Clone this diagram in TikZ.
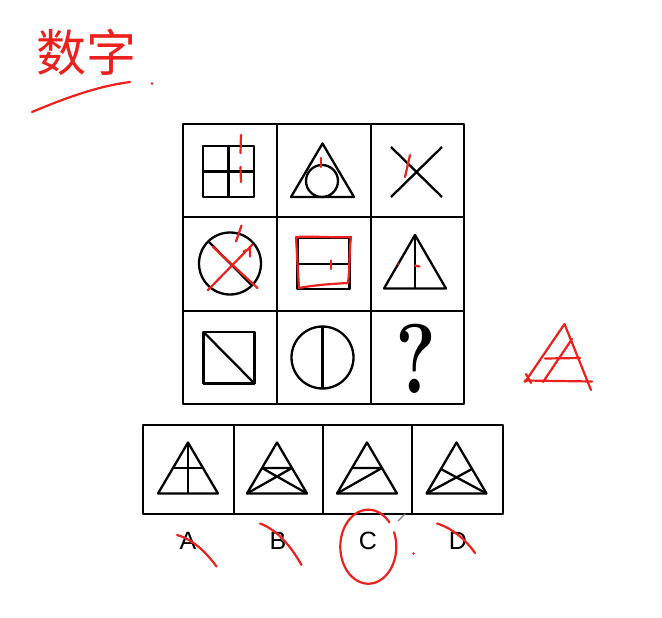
\documentclass[tikz,border=0pt]{standalone}
\usepackage{fontspec}
\newfontfamily\labfont{Liberation Sans}
\newfontfamily\cjkfont{Noto Sans CJK SC}
\definecolor{inkR}{RGB}{236,32,28}

\begin{document}
\begin{tikzpicture}[x=1pt,y=-1pt,line join=round,
  fig/.style={line width=2.3pt},
  grid/.style={line width=2pt},
  pen/.style={inkR,line width=2.2pt,line cap=round}]
\useasboundingbox (0,0) rectangle (662,618);
\fill[white] (0,0) rectangle (662,618);
\draw[grid] (183,124) rectangle (464,404);
\foreach \x in {277,371} \draw[grid] (\x,124)--(\x,404);
\foreach \y in {217,311} \draw[grid] (183,\y)--(464,\y);
\draw[fig] (203,146) rectangle (254,197); \draw[fig] (228.5,146)--(228.5,197) (203,171.5)--(254,171.5);
\draw[fig] (322.5,143.5)--(291,197)--(354,197)--cycle; \draw[fig] (322,181) circle (16);
\draw[fig] (391,147)--(442,197) (442,147)--(391,197);
\draw[fig] (230,263.5) circle (31); \draw[fig] (209,242)--(252,285.5);
\draw[fig] (297.5,237.5) rectangle (349.5,289); \draw[fig] (297.5,264)--(349.5,264);
\draw[fig] (415,235)--(384,288.5)--(446,288.5)--cycle; \draw[fig] (415,235)--(415,288.5);
\draw[fig] (203.5,332) rectangle (254.5,383.5); \draw[fig] (203.5,332)--(254.5,383.5);
\draw[fig] (322.5,357.5) circle (31); \draw[fig] (322.5,326.5)--(322.5,388.5);
\node[xscale=0.78,font=\bfseries\fontsize{99}{99}\selectfont] (qmark) at (415.5,359) {?};
\draw[grid] (143,425) rectangle (503,514);
\foreach \x in {234,323,412} \draw[grid] (\x,425)--(\x,514);
\begin{scope}[shift={(188,468)}]
\draw[fig] (0,-25.5)--(-30,25.5)--(30,25.5)--cycle;
\draw[fig] (-15,0)--(15,0) (0,-25.5)--(0,25.5);
\end{scope}
\begin{scope}[shift={(277,468)}]
\draw[fig] (0,-25.5)--(-30,25.5)--(30,25.5)--cycle;
\draw[fig] (-15,0)--(15,0) (-30,25.5)--(15,0) (30,25.5)--(-15,0);
\end{scope}
\begin{scope}[shift={(367,468)}]
\draw[fig] (0,-25.5)--(-30,25.5)--(30,25.5)--cycle;
\draw[fig] (-15,0)--(15,0) (-30,25.5)--(15,0);
\end{scope}
\begin{scope}[shift={(456.5,468)}]
\draw[fig] (0,-25.5)--(-30,25.5)--(30,25.5)--cycle;
\draw[fig] (-30,25.5)--(15.5,1) (30,25.5)--(-15.5,1);
\end{scope}
\foreach \lab/\x in {A/188,B/278,C/368,D/458}
  \node[font=\labfont\fontsize{25}{25}\selectfont] (opt\lab) at (\x,541) {\lab};
\node[inkR,font=\cjkfont\fontsize{50}{50}\selectfont] (title) at (86,52) {数字};
\draw[pen] (32,112) .. controls (70,96) and (100,86) .. (130,82);
\fill[inkR] (152,83.5) circle (1.3);
\draw[pen] (241,135)--(240.5,153) (240.5,167)--(241,182);
\draw[pen] (320.7,158)--(320.7,167);
\draw[pen] (410,155)--(405,177);
\draw[pen] (208,290)--(252,245) (213,247)--(257.5,288) (236,241.5)--(241.5,225.5) (243.5,251.5)--(250,248.5)--(250,256.5);
\draw[pen] (296,237) .. controls (315,236) and (335,238) .. (351,237) .. controls (349,252) and (350,268) .. (348,283)
  .. controls (330,284) and (315,285) .. (299,288) .. controls (298,272) and (297,255) .. (296,237);
\draw[pen] (331,260.5)--(331,269);
\fill[inkR] (398.5,264) circle (1.2);
\draw[pen] (415,265.5)--(419.5,266.5);
\draw[pen] (564.5,324)--(525,382) (564.5,324)--(591,390) (525,380.5)--(592,381.5)
  (545,358.5)--(580,358) (543,382)--(572,339) (526,374)--(531,383);
\draw[pen] (177,535) .. controls (195,540) and (208,555) .. (216.5,566.5);
\draw[pen] (260,523.5) .. controls (278,530) and (292,548) .. (301.5,565);
\draw[pen] (437,523.5) .. controls (452,528) and (466,540) .. (475,553);
\draw[pen,domain=-41:-383,samples=90,smooth,variable=\t] plot ({368.3+28*cos(\t)},{546.7+37*sin(\t)});
\fill[inkR] (413.5,553.5) circle (1.3);
\draw[gray,line width=1.4pt] (398,521)--(405,514);
\end{tikzpicture}
\end{document}
